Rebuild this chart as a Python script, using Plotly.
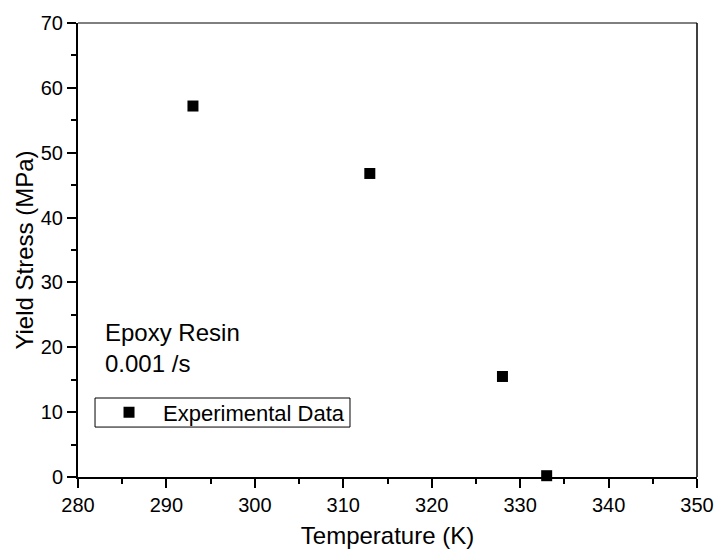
import plotly.graph_objects as go

temperature = [293, 313, 328, 333]
yield_stress = [57.2, 46.8, 15.5, 0.2]
series_name = "Experimental Data"

fig = go.Figure()
fig.add_trace(go.Scatter(
    x=temperature, y=yield_stress, mode="markers", name=series_name,
    marker=dict(symbol="square", size=11, color="black"),
    cliponaxis=False,
))

font = "Liberation Sans, Arial, sans-serif"
fig.update_layout(
    width=715, height=551,
    margin=dict(l=78, r=18, t=23, b=74, autoexpand=False),
    plot_bgcolor="white", paper_bgcolor="white",
    font=dict(family=font, size=20, color="black"),
    showlegend=True,
    legend=dict(x=0.0275, y=0.142, xanchor="left", yanchor="middle",
                borderwidth=0, bgcolor="rgba(0,0,0,0)",
                font=dict(size=22), itemwidth=58),
    xaxis=dict(range=[280, 350], dtick=10, showgrid=False, zeroline=False,
               showline=True, linecolor="black", linewidth=2, automargin=False,
               ticks="outside", ticklen=9, tickwidth=1.5, tickcolor="black",
               minor=dict(dtick=5, ticks="outside", ticklen=5, tickwidth=1.5, tickcolor="black"),
               title=dict(text="Temperature (K)", font=dict(size=24), standoff=12),
               tickfont=dict(size=20)),
    yaxis=dict(range=[0, 70], dtick=10, showgrid=False, zeroline=False,
               showline=True, linecolor="black", linewidth=2, automargin=False,
               ticks="outside", ticklen=9, tickwidth=1.5, tickcolor="black",
               minor=dict(dtick=5, ticks="outside", ticklen=5, tickwidth=1.5, tickcolor="black"),
               title=dict(text="Yield Stress (MPa)", font=dict(size=24), standoff=0),
               tickfont=dict(size=20)),
)
fig.add_shape(type="line", xref="paper", yref="paper", x0=0, x1=1, y0=1, y1=1,
              line=dict(color="black", width=1))
fig.add_shape(type="line", xref="paper", yref="paper", x0=1, x1=1, y0=0, y1=1,
              line=dict(color="black", width=1.5))
# legend frame
fig.add_shape(type="rect", xref="paper", yref="paper", x0=0.0275, x1=0.4394, y0=0.110, y1=0.174,
              line=dict(color="black", width=1), fillcolor="white", layer="below")
fig.add_annotation(xref="paper", yref="paper", x=0.041, y=0.352, xanchor="left", yanchor="top",
                   text="Epoxy Resin<br>0.001 /s", showarrow=False, align="left",
                   font=dict(size=24))

fig.write_html(
    "out.html",
    config={"displayModeBar": False},
    post_script="document.body.style.margin='0';document.body.style.overflow='hidden';",
)
